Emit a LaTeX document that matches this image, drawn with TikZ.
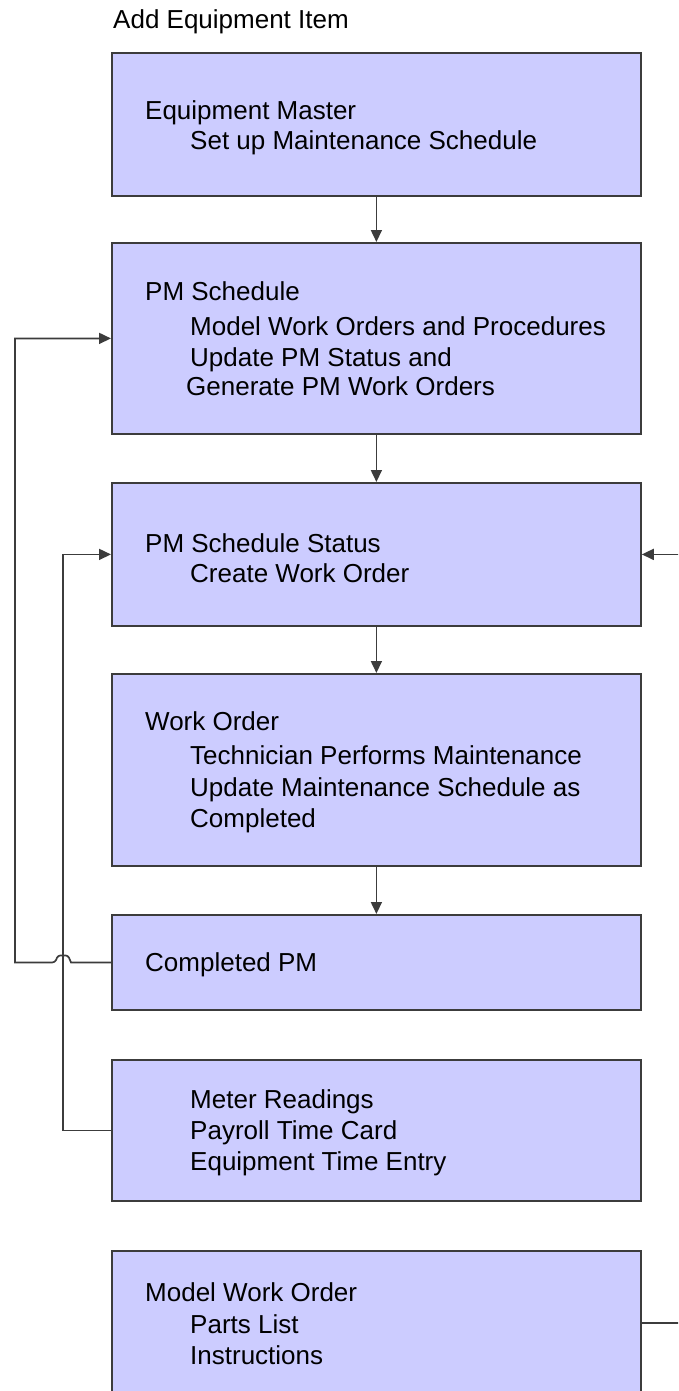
\documentclass[tikz,border=0pt]{standalone}
\usepackage{fontspec}
\setmainfont{Liberation Sans}
\usetikzlibrary{arrows.meta}
\definecolor{boxfill}{RGB}{204,204,255}
\definecolor{edgecol}{RGB}{60,60,60}
\begin{document}
\begin{tikzpicture}[x=1pt,y=-1pt,
  box/.style={draw=edgecol, line width=1.8pt, fill=boxfill, rectangle, inner sep=0pt, anchor=north west, minimum width=529pt},
  lbl/.style={anchor=base west, inner sep=0pt, font=\fontsize{26}{30}\selectfont, text=black},
  conn/.style={draw=edgecol, line width=1.7pt},
  arr/.style={conn, -{Triangle[length=12pt,width=11pt]}}]
\useasboundingbox (0,0) rectangle (678,1391);
\clip (0,0) rectangle (678,1391);

% title
\node[lbl] (title) at (113,29) {Add Equipment Item};

% boxes
\node[box, minimum height=143pt] (b1) at (111,52) {};
\node[box, minimum height=191pt] (b2) at (111,242) {};
\node[box, minimum height=143pt] (b3) at (111,482) {};
\node[box, minimum height=192pt] (b4) at (111,673) {};
\node[box, minimum height=95pt]  (b5) at (111,914) {};
\node[box, minimum height=141pt] (b6) at (111,1059) {};
\node[box, minimum height=144pt] (b7) at (111,1250) {};

% box texts
\node[lbl] (t1a) at (145,120) {Equipment Master};
\node[lbl] (t1b) at (190,150) {Set up Maintenance Schedule};

\node[lbl] (t2a) at (145,300) {PM Schedule};
\node[lbl] (t2b) at (190,335) {Model Work Orders and Procedures};
\node[lbl] (t2c) at (190,366) {Update PM Status and};
\node[lbl] (t2d) at (186,395) {Generate PM Work Orders};

\node[lbl] (t3a) at (145,552) {PM Schedule Status};
\node[lbl] (t3b) at (190,582) {Create Work Order};

\node[lbl] (t4a) at (145,730) {Work Order};
\node[lbl] (t4b) at (190,764) {Technician Performs Maintenance};
\node[lbl] (t4c) at (190,796) {Update Maintenance Schedule as};
\node[lbl] (t4d) at (190,827) {Completed};

\node[lbl] (t5a) at (145,971) {Completed PM};

\node[lbl] (t6a) at (190,1108) {Meter Readings};
\node[lbl] (t6b) at (190,1139) {Payroll Time Card};
\node[lbl] (t6c) at (190,1170) {Equipment Time Entry};

\node[lbl] (t7a) at (145,1301) {Model Work Order};
\node[lbl] (t7b) at (190,1333) {Parts List};
\node[lbl] (t7c) at (190,1364) {Instructions};

% vertical flow
\draw[arr] (b1.south) -- (b2.north);
\draw[arr] (b2.south) -- (b3.north);
\draw[arr] (b3.south) -- (b4.north);
\draw[arr] (b4.south) -- (b5.north);

% feedback loops on the left
\draw[arr, rounded corners=0pt] (b5.west) -- ++(-40,0)
   [rounded corners=2.5pt] -- ++(-3,-7) -- ++(-10,0) -- ++(-3,7) [rounded corners=0pt]
   -- ++(-40,0) |- (b2.west);
\draw[arr] (b6.west) -- ++(-48,0) |- (b3.west);

% lines off the right edge
\coordinate (r3) at ([xshift=60pt]b3.east);
\coordinate (r7) at ([xshift=60pt]b7.east);
\draw[arr] (r3) -- (b3.east);
\draw[conn] (b7.east) -- (r7);
\end{tikzpicture}
\end{document}
